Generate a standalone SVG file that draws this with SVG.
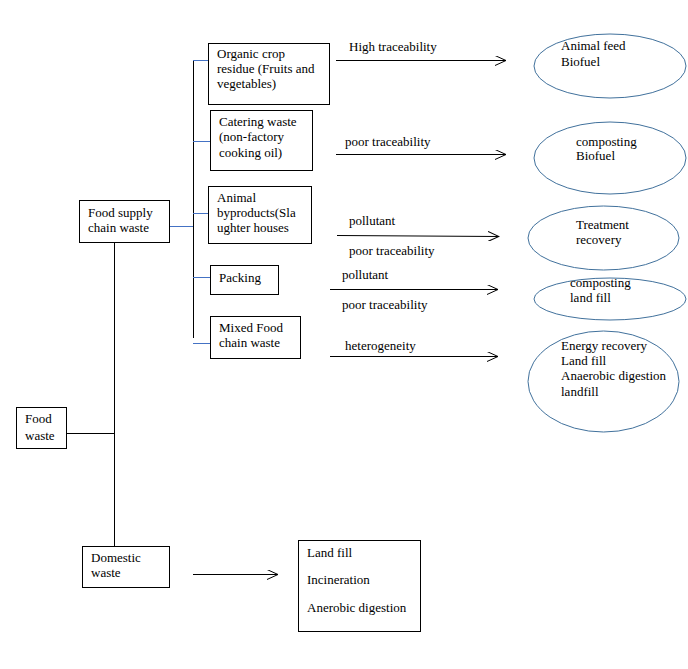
<svg xmlns="http://www.w3.org/2000/svg" width="688" height="669" viewBox="0 0 688 669">
<style>
text{font-family:"Liberation Serif","Times New Roman",serif;font-size:13px;fill:#000}
.box{fill:#fff;stroke:#000;stroke-width:1}
.ell{fill:#fff;stroke:#41719C;stroke-width:1}
.blk{stroke:#000;stroke-width:1;fill:none}
.blu{stroke:#4472C4;stroke-width:1;fill:none}
.arr{stroke:#000;stroke-width:1;fill:none;marker-end:url(#ah)}
</style>
<defs>
<marker id="ah" markerWidth="12" markerHeight="10" refX="11" refY="5" orient="auto" markerUnits="userSpaceOnUse">
<path d="M0,0 L11,5 L0,10" fill="none" stroke="#000" stroke-width="1"/>
</marker>
</defs>
<rect width="688" height="669" fill="#fff"/>
<g id="connectors">
<line class="blk" x1="193.5" y1="60" x2="193.5" y2="338"/>
<line class="blu" x1="193" y1="60.5" x2="210" y2="60.5"/>
<line class="blu" x1="193" y1="141.5" x2="210" y2="141.5"/>
<line class="blu" x1="193" y1="213.5" x2="208" y2="213.5"/>
<line class="blu" x1="169" y1="226.5" x2="193" y2="226.5"/>
<line class="blu" x1="193" y1="277.5" x2="210" y2="277.5"/>
<line class="blu" x1="193" y1="343.5" x2="210" y2="343.5"/>
<line class="blk" x1="114.5" y1="242" x2="114.5" y2="546"/>
<line class="blk" x1="66" y1="433.5" x2="114" y2="433.5"/>
<line class="arr" x1="336" y1="60.5" x2="506" y2="60.5"/>
<line class="arr" x1="336" y1="154.5" x2="506" y2="154.5"/>
<line class="arr" x1="337" y1="235.5" x2="499" y2="236.5"/>
<line class="arr" x1="330" y1="289.5" x2="498" y2="289.5"/>
<line class="arr" x1="330" y1="356.5" x2="498" y2="356.5"/>
<line class="arr" x1="193" y1="574.5" x2="278" y2="574.5"/>
<text x="349" y="51">High traceability</text>
<text x="345" y="146">poor traceability</text>
<text x="349" y="225">pollutant</text>
<text x="349" y="255">poor traceability</text>
<text x="342" y="279">pollutant</text>
<text x="342" y="309">poor traceability</text>
<text x="345" y="350">heterogeneity</text>
</g>
<g id="organic">
<rect class="box" x="208.5" y="43.5" width="121" height="61"/>
<text x="217" y="58">Organic crop</text>
<text x="217" y="73">residue (Fruits and</text>
<text x="217" y="88">vegetables)</text>
</g>
<g id="catering">
<rect class="box" x="210.5" y="110.5" width="102" height="60"/>
<text x="219" y="126">Catering waste</text>
<text x="219" y="141">(non-factory</text>
<text x="219" y="157">cooking oil)</text>
</g>
<g id="animal">
<rect class="box" x="208.5" y="186.5" width="103" height="57"/>
<text x="217" y="202">Animal</text>
<text x="217" y="217">byproducts(Sla</text>
<text x="217" y="232">ughter houses</text>
</g>
<g id="packing">
<rect class="box" x="210.5" y="265.5" width="68" height="29"/>
<text x="219" y="282">Packing</text>
</g>
<g id="mixed">
<rect class="box" x="210.5" y="316.5" width="90" height="42"/>
<text x="219" y="332">Mixed Food</text>
<text x="219" y="347">chain waste</text>
</g>
<g id="supply">
<rect class="box" x="79.5" y="200.5" width="90" height="42"/>
<text x="88" y="217">Food supply</text>
<text x="88" y="232">chain waste</text>
</g>
<g id="foodwaste">
<rect class="box" x="16.5" y="407.5" width="50" height="41"/>
<text x="25" y="423">Food</text>
<text x="25" y="440">waste</text>
</g>
<g id="domestic">
<rect class="box" x="82.5" y="546.5" width="87" height="41"/>
<text x="91" y="562">Domestic</text>
<text x="91" y="577">waste</text>
</g>
<g id="domestic-out">
<rect class="box" x="298.5" y="540.5" width="122" height="91"/>
<text x="307" y="557">Land fill</text>
<text x="307" y="584">Incineration</text>
<text x="307" y="612">Anerobic digestion</text>
</g>
<g id="e1">
<ellipse class="ell" cx="610" cy="66" rx="76" ry="32"/>
<text x="561" y="50">Animal feed</text>
<text x="561" y="66">Biofuel</text>
</g>
<g id="e2">
<ellipse class="ell" cx="610" cy="158" rx="76" ry="36"/>
<text x="576" y="146">composting</text>
<text x="576" y="160">Biofuel</text>
</g>
<g id="e3">
<ellipse class="ell" cx="603.5" cy="238" rx="75.5" ry="32"/>
<text x="576" y="229">Treatment</text>
<text x="576" y="244">recovery</text>
</g>
<g id="e4">
<ellipse class="ell" cx="610" cy="299" rx="76" ry="21"/>
<text x="570" y="287">composting</text>
<text x="570" y="302">land fill</text>
</g>
<g id="e5">
<ellipse class="ell" cx="603.5" cy="381.5" rx="75.5" ry="50.5"/>
<text x="561" y="350">Energy recovery</text>
<text x="561" y="365">Land fill</text>
<text x="561" y="380">Anaerobic digestion</text>
<text x="561" y="396">landfill</text>
</g>
</svg>
